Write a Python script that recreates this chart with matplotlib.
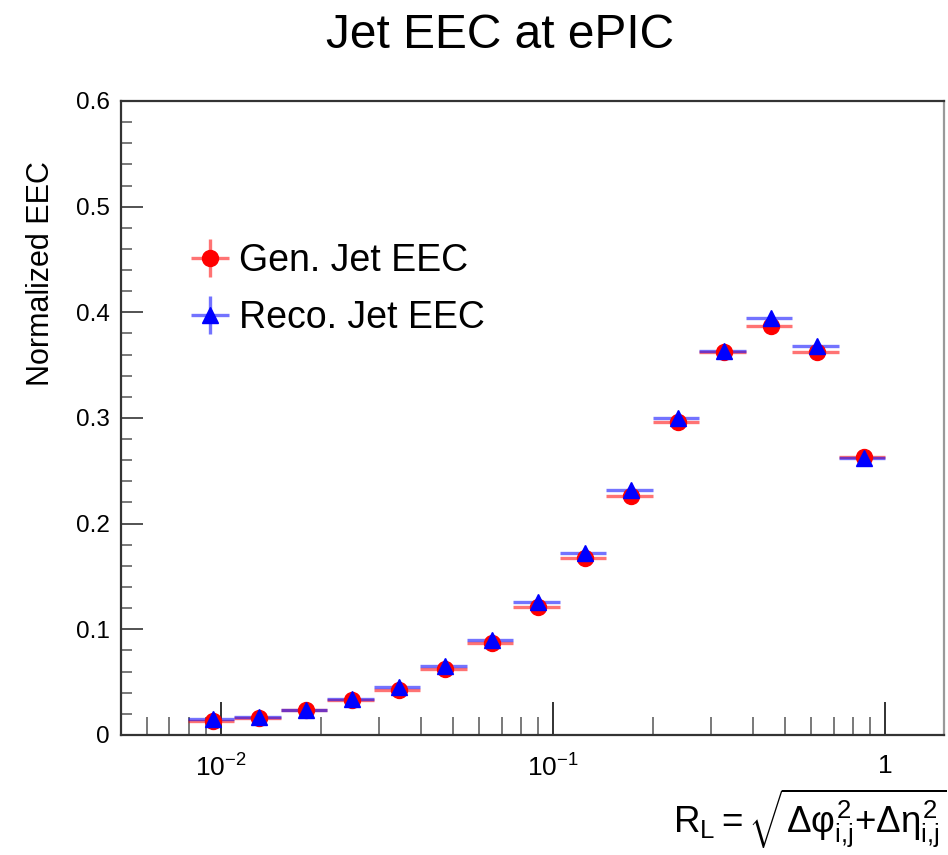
import numpy as np
import matplotlib
matplotlib.use('Agg')
import matplotlib.pyplot as plt
from matplotlib.ticker import FixedLocator, NullFormatter

plt.rcParams['font.family'] = ['Liberation Sans', 'DejaVu Sans']
plt.rcParams['mathtext.fontset'] = 'custom'
plt.rcParams['mathtext.rm'] = 'Liberation Sans'
plt.rcParams['mathtext.it'] = 'Liberation Sans'
plt.rcParams['mathtext.bf'] = 'Liberation Sans:bold'

# log-spaced R_L bin edges
bin_edges = [0.00794, 0.01096, 0.01514, 0.02089, 0.02884, 0.03981, 0.05495, 0.07586,
             0.10471, 0.14454, 0.19953, 0.27542, 0.38019, 0.52481, 0.72444, 1.0]

gen_eec = [0.013, 0.016, 0.024, 0.033, 0.043, 0.062, 0.087, 0.121,
           0.167, 0.226, 0.296, 0.362, 0.387, 0.362, 0.263]
reco_eec = [0.015, 0.017, 0.024, 0.034, 0.045, 0.065, 0.090, 0.126,
            0.172, 0.232, 0.300, 0.363, 0.395, 0.368, 0.262]
gen_err = [0.0005, 0.0005, 0.0006, 0.0007, 0.0008, 0.001, 0.001, 0.0012,
           0.0014, 0.0016, 0.0018, 0.002, 0.002, 0.002, 0.0018]
reco_err = [0.0005, 0.0005, 0.0006, 0.0007, 0.0008, 0.001, 0.001, 0.0012,
            0.0014, 0.0016, 0.0018, 0.002, 0.002, 0.002, 0.0018]

edges = np.array(bin_edges)
centers = 0.5 * (edges[:-1] + edges[1:])
xerr = [centers - edges[:-1], edges[1:] - centers]

fig = plt.figure(figsize=(9.48, 8.55), dpi=100)
ax = fig.add_axes([0.1276, 0.1404, 0.8677, 0.7415])

ax.errorbar(centers, gen_eec, xerr=xerr, yerr=gen_err, fmt='o', color='red',
            ms=11.5, ecolor=(1, 0, 0, 0.55), elinewidth=2.4, capsize=0,
            label='Gen. Jet EEC')
ax.errorbar(centers, reco_eec, xerr=xerr, yerr=reco_err, fmt='^', color='blue',
            ms=11.5, ecolor=(0, 0, 1, 0.55), elinewidth=2.4, capsize=0,
            label='Reco. Jet EEC')

ax.set_xscale('log')
ax.set_xlim(0.005, 1.5)
ax.set_ylim(0, 0.6)

ax.xaxis.set_major_locator(FixedLocator([0.01, 0.1, 1]))
ax.set_xticklabels([r'$10^{-2}$', r'$10^{-1}$', '1'])
minor_x = [m * d for d in (0.001, 0.01, 0.1) for m in range(2, 10)]
ax.xaxis.set_minor_locator(FixedLocator([v for v in minor_x if 0.005 <= v <= 1.5]))
ax.xaxis.set_minor_formatter(NullFormatter())

ax.set_yticks([0, 0.1, 0.2, 0.3, 0.4, 0.5, 0.6])
ax.set_yticklabels(['0', '0.1', '0.2', '0.3', '0.4', '0.5', '0.6'])
ax.set_yticks(np.arange(0, 0.601, 0.02), minor=True)

ax.tick_params(axis='x', which='major', direction='in', length=24, width=1.3,
               labelsize=19, pad=14, color='#222222')
ax.tick_params(axis='x', which='minor', direction='in', length=13, width=1.1,
               color='#555555')
ax.tick_params(axis='y', which='major', direction='in', length=16, width=1.3,
               labelsize=17.5, pad=8, color='#444444')
ax.tick_params(axis='y', which='minor', direction='in', length=8, width=1.1,
               color='#555555')

for side in ['left', 'bottom', 'top', 'right']:
    ax.spines[side].set_linewidth(1.6)
    ax.spines[side].set_color('#333333')
ax.spines['right'].set_color('#999999')

ax.set_ylabel('Normalized EEC', fontsize=22)
ax.yaxis.set_label_coords(-0.079, 0.728)

fig.text(0.527, 0.958, 'Jet EEC at ePIC', fontsize=34.5, ha='center', va='center')
fig.text(0.999, 0.005,
         r'$\mathrm{R_{L}} = \sqrt{\Delta\varphi^{2}_{i{,}j}{+}\Delta\eta^{2}_{i{,}j}}$',
         fontsize=26.5, ha='right', va='bottom')

ax.legend(loc='upper left', bbox_to_anchor=(0.0814, 0.776), frameon=False,
          fontsize=27, handlelength=1.17, handletextpad=0.2, labelspacing=0.56,
          borderaxespad=0, borderpad=0)

fig.savefig('out.png', dpi=100)
